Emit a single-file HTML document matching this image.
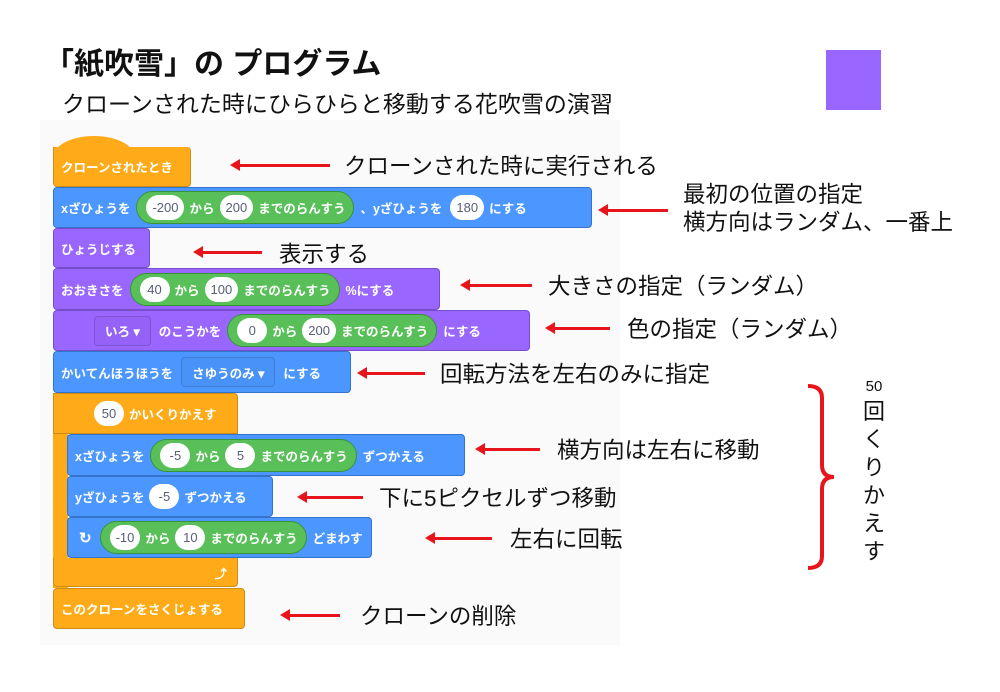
<!DOCTYPE html>
<html><head><meta charset="utf-8">
<style>
body{margin:0;width:1000px;height:692px;background:#fff;position:relative;overflow:hidden;font-family:"Liberation Sans","Noto Sans CJK JP",sans-serif;}
.a{position:absolute;}
.blk{position:absolute;display:flex;align-items:center;color:#fff;font-weight:bold;font-size:12.5px;box-sizing:border-box;padding-left:7px;border-radius:4px;white-space:nowrap;}
.or{background:#ffab19;border:1px solid #cf8b17;}
.bl{background:#4c97ff;border:1px solid #3373cc;}
.pu{background:#9966ff;border:1px solid #774dcb;}
.gr{background:#59c059;border:1px solid #389438;border-radius:20px;height:31px;display:inline-flex;align-items:center;padding:0 8px 0 4px;margin:0 6px;}
.in{background:#fff;color:#575e75;border-radius:14px;height:25px;min-width:30px;padding:0 6px;box-sizing:border-box;display:inline-flex;align-items:center;justify-content:center;font-weight:normal;font-size:13px;margin:0 5px;}
.dd{border:1px solid rgba(0,0,0,0.15);border-radius:4px;height:28px;padding:0 10px;display:inline-flex;align-items:center;margin:0 8px;background:rgba(0,0,0,0.03);}
.lab{position:absolute;font-size:22.5px;color:#111;white-space:nowrap;}
.arr{position:absolute;height:3px;background:#e8141b;}
.arr:before{content:"";position:absolute;left:-8px;top:-5px;border-right:10px solid #e8141b;border-top:6.5px solid transparent;border-bottom:6.5px solid transparent;}
</style></head><body>
<div class="a" style="left:40px;top:120px;width:580px;height:525px;background:#fafafa;"></div>
<div class="a" style="left:44px;top:39px;font-size:30px;font-weight:bold;color:#111;">「紙吹雪」の プログラム</div>
<div class="a" style="left:62px;top:85px;font-size:23px;color:#111;">クローンされた時にひらひらと移動する花吹雪の演習</div>
<div class="a" style="left:826px;top:50px;width:55px;height:60px;background:#9966ff;"></div>

<div class="a" style="left:53px;top:136px;width:82px;height:30px;background:#ffab19;border-radius:42px 42px 0 0/22px 22px 0 0;"></div>
<div class="blk or" style="left:53px;top:147px;width:138px;height:40px;border-top:none;border-radius:0 4px 4px 4px;">クローンされたとき</div>
<div class="blk bl" style="left:53px;top:187px;width:539px;height:41px;">xざひょうを<span class="gr"><span class="in">-200</span>から<span class="in">200</span>までのらんすう</span>、yざひょうを<span class="in" style="margin-left:8px">180</span>にする</div>
<div class="blk pu" style="left:53px;top:228px;width:97px;height:40px;">ひょうじする</div>
<div class="blk pu" style="left:53px;top:268px;width:387px;height:42px;">おおきさを<span class="gr"><span class="in">40</span>から<span class="in">100</span>までのらんすう</span>%にする</div>
<div class="blk pu" style="left:53px;top:310px;width:477px;height:41px;padding-left:40px;"><span class="dd" style="margin-left:0">いろ ▾</span>のこうかを<span class="gr"><span class="in">0</span>から<span class="in">200</span>までのらんすう</span>にする</div>
<div class="blk bl" style="left:53px;top:351px;width:298px;height:42px;">かいてんほうほうを<span class="dd">さゆうのみ ▾</span>にする</div>
<div class="a" style="left:53px;top:393px;width:15px;height:195px;background:#ffab19;"></div>
<div class="blk or" style="left:53px;top:393px;width:185px;height:41px;padding-left:40px;border-radius:0 4px 0 0;"><span class="in" style="margin-left:0">50</span>かいくりかえす</div>
<div class="blk bl" style="left:67px;top:434px;width:398px;height:42px;">xざひょうを<span class="gr"><span class="in">-5</span>から<span class="in">5</span>までのらんすう</span>ずつかえる</div>
<div class="blk bl" style="left:67px;top:476px;width:206px;height:41px;">yざひょうを<span class="in">-5</span>ずつかえる</div>
<div class="blk bl" style="left:67px;top:517px;width:305px;height:41px;"><span style="font-size:15px;margin:0 4px 0 4px">↻</span><span class="gr" style="margin-left:4px"><span class="in">-10</span>から<span class="in">10</span>までのらんすう</span>どまわす</div>
<div class="blk or" style="left:53px;top:558px;width:185px;height:29px;border-top:none;border-radius:0 0 4px 4px;justify-content:flex-end;padding-right:10px;">⤴</div>
<div class="blk or" style="left:53px;top:588px;width:192px;height:41px;">このクローンをさくじょする</div>

<div class="arr" style="left:238px;top:164px;width:92px;"></div><div class="lab" style="left:344px;top:149px;">クローンされた時に実行される</div>
<div class="arr" style="left:606px;top:209px;width:62px;"></div><div class="lab" style="left:683px;top:181px;line-height:28px;">最初の位置の指定<br>横方向はランダム、一番上</div>
<div class="arr" style="left:201px;top:251px;width:61px;"></div><div class="lab" style="left:279px;top:237px;">表示する</div>
<div class="arr" style="left:468px;top:284px;width:64px;"></div><div class="lab" style="left:548px;top:269px;">大きさの指定（ランダム）</div>
<div class="arr" style="left:553px;top:327px;width:57px;"></div><div class="lab" style="left:627px;top:312px;">色の指定（ランダム）</div>
<div class="arr" style="left:365px;top:372px;width:60px;"></div><div class="lab" style="left:440px;top:357px;">回転方法を左右のみに指定</div>
<div class="arr" style="left:483px;top:448px;width:57px;"></div><div class="lab" style="left:557px;top:433px;">横方向は左右に移動</div>
<div class="arr" style="left:305px;top:496px;width:58px;"></div><div class="lab" style="left:379px;top:481px;">下に5ピクセルずつ移動</div>
<div class="arr" style="left:433px;top:537px;width:59px;"></div><div class="lab" style="left:510px;top:522px;">左右に回転</div>
<div class="arr" style="left:288px;top:614px;width:52px;"></div><div class="lab" style="left:360px;top:599px;">クローンの削除</div>

<svg class="a" style="left:800px;top:380px" width="40" height="195"><path d="M8 6 Q22 6 22 18 L22 85 Q22 97 34 97 Q22 97 22 109 L22 176 Q22 188 8 188" fill="none" stroke="#e8141b" stroke-width="4"/></svg>
<div class="a" style="left:862px;top:378px;width:24px;text-align:center;font-size:15px;color:#111;">50</div>
<div class="a" style="left:860px;top:398px;width:28px;text-align:center;font-size:22px;line-height:28px;color:#111;">回<br>く<br>り<br>か<br>え<br>す</div>
</body></html>
